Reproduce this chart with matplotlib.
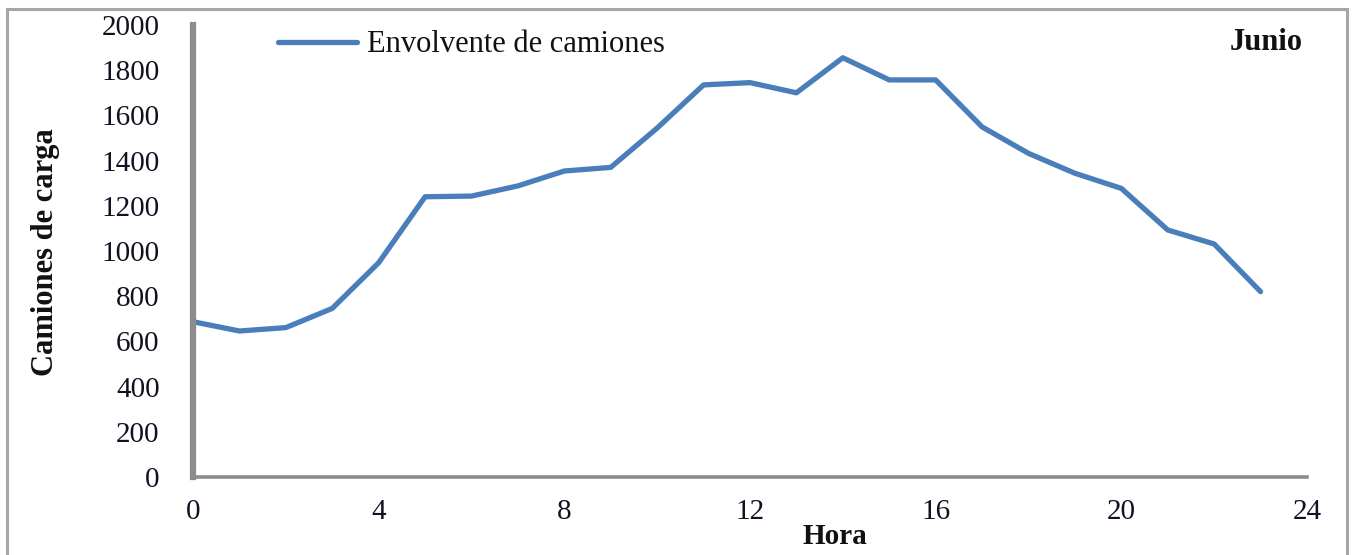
import matplotlib
matplotlib.use("Agg")
import matplotlib.pyplot as plt
from matplotlib.patches import Rectangle

hours = list(range(24))
camiones = [687, 646, 661, 746, 948, 1240, 1243, 1288, 1354, 1370,
            1544, 1735, 1745, 1700, 1855, 1757, 1757, 1549, 1432, 1344,
            1277, 1093, 1031, 820]
xticks = [0, 4, 8, 12, 16, 20, 24]
yticks = list(range(0, 2001, 200))
series_label = "Envolvente de camiones"
title_text = "Junio"
xlabel = "Hora"
ylabel = "Camiones de carga"

plt.rcParams['font.family'] = ['Liberation Serif', 'DejaVu Serif']

fig = plt.figure(figsize=(13.52, 5.55), dpi=100)
W, H = 1352, 555
ax = fig.add_axes([193 / W, 1 - 477 / H, (1307 - 193) / W, (477 - 25) / H])

# figure border
fig.patches.append(Rectangle((7 / W, -0.02), (1347 - 7) / W, 1 - 9 / H + 0.02,
                             transform=fig.transFigure, fill=False,
                             edgecolor='#a6a6a6', linewidth=2.2, zorder=0))

line, = ax.plot(hours, camiones, color='#4A7EBB', linewidth=3.8,
                solid_capstyle='round', solid_joinstyle='round',
                label=series_label)

ax.set_xlim(0, 24)
ax.set_ylim(0, 2000)
ax.set_xticks(xticks)
ax.set_yticks(yticks)
ax.tick_params(axis='both', length=0, labelsize=21, colors='#111122')
ax.tick_params(axis='y', pad=24)
ax.tick_params(axis='x', pad=16)

for s in ['top', 'right']:
    ax.spines[s].set_visible(False)
ax.spines['left'].set_color('#8c8c8c')
ax.spines['left'].set_linewidth(4.5)
ax.spines['bottom'].set_color('#8c8c8c')
ax.spines['bottom'].set_linewidth(2.6)

ax.set_xlabel(xlabel, fontsize=21, fontweight='bold', color='#111', va='center')
ax.xaxis.set_label_coords((835 - 193) / (1307 - 193), -(536 - 477) / (477 - 25))
ax.set_ylabel(ylabel, fontsize=22, fontweight='bold', color='#111', va='center')
ax.yaxis.set_label_coords(-(193 - 46) / (1307 - 193), (477 - 252) / (477 - 25))

ax.text((1303 - 193) / (1307 - 193), (477 - 43) / (477 - 25), title_text,
        transform=ax.transAxes, ha='right', va='center', fontsize=22,
        fontweight='bold', color='#111')

leg = ax.legend(loc='center left',
                bbox_to_anchor=((278 - 193) / (1307 - 193), (477 - 45) / (477 - 25)),
                frameon=False, fontsize=22, handlelength=2.6, handletextpad=0.3,
                borderpad=0, borderaxespad=0)
for t in leg.get_texts():
    t.set_color('#111')

fig.savefig("out.png", dpi=100)
